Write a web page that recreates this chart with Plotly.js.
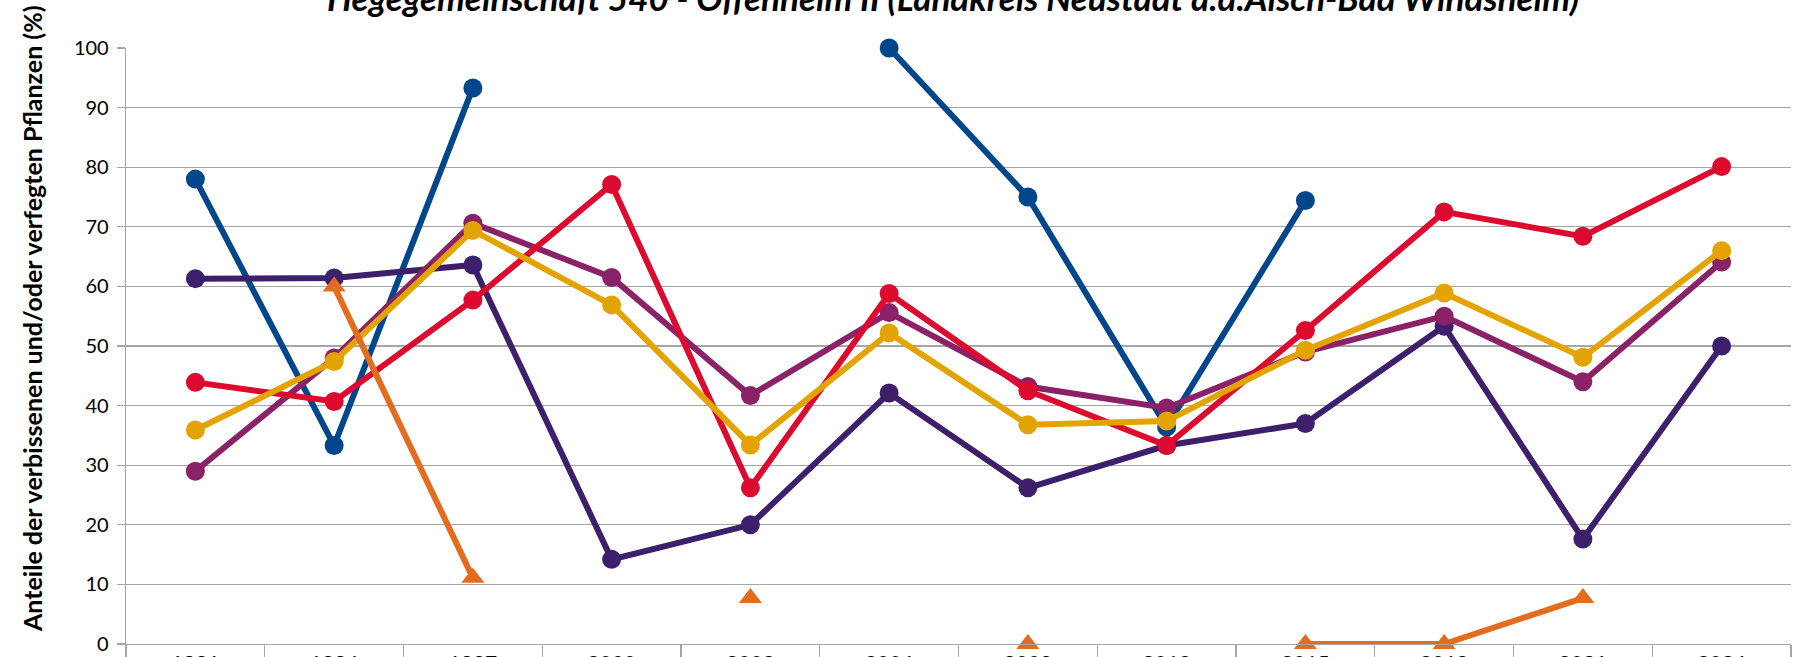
<!DOCTYPE html>
<html>
<head>
<meta charset="utf-8">
<script src="https://cdn.plot.ly/plotly-3.0.1.min.js"></script>
<style>html,body{margin:0;padding:0;background:#fff;}#chart{width:1798px;height:657px;}</style>
</head>
<body>
<div id="chart"></div>
<script>
const years = ["1991","1994","1997","2000","2003","2006","2009","2012","2015","2018","2021","2024"];
const seriesBlue    = [78.0, 33.3, 93.3, null, null, 100, 75.0, 36.4, 74.4, null, null, null];
const seriesPurple  = [61.3, 61.4, 63.6, 14.2, 20.0, 42.1, 26.2, 33.3, 37.0, 53.3, 17.6, 50.0];
const seriesMagenta = [29.0, 48.0, 70.6, 61.5, 41.7, 55.6, 43.2, 39.6, 49.0, 55.0, 44.0, 64.1];
const seriesRed     = [43.9, 40.7, 57.7, 77.1, 26.2, 58.8, 42.5, 33.3, 52.6, 72.5, 68.4, 80.1];
const seriesGold    = [35.9, 47.4, 69.4, 56.9, 33.4, 52.2, 36.8, 37.4, 49.3, 58.9, 48.1, 66.0];
const seriesOrange  = [null, 60.0, 11.1, null, 7.7, null, 0, null, 0, 0, 7.7, null];

const titleText = "Hegegemeinschaft 540 - Offenheim II (Landkreis Neustadt a.d.Aisch-Bad Windsheim)";
const yTitleText = "Anteile der verbissenen und/oder verfegten Pflanzen (%)";

function circleTrace(y, color) {
  return {x: years, y: y, type: 'scatter', mode: 'lines+markers', connectgaps: false,
    line: {color: color, width: 6}, marker: {symbol: 'circle', size: 19, color: color, line: {width: 0}},
    hoverinfo: 'skip', cliponaxis: false};
}
const traces = [
  circleTrace(seriesBlue, '#00468B'),
  circleTrace(seriesPurple, '#3D1F6B'),
  circleTrace(seriesMagenta, '#8B2267'),
  circleTrace(seriesRed, '#DC0A2F'),
  circleTrace(seriesGold, '#E3A402'),
  {x: years, y: seriesOrange, type: 'scatter', mode: 'lines+markers', connectgaps: false,
   line: {color: '#E36C1E', width: 6}, marker: {symbol: 'triangle-up', size: 20, color: '#E36C1E', line: {width: 0}},
   hoverinfo: 'skip', cliponaxis: false}
];

const layout = {
  width: 1798, height: 657,
  margin: {l: 126, r: 7, t: 48, b: 13, pad: 0},
  paper_bgcolor: '#ffffff', plot_bgcolor: '#ffffff',
  showlegend: false,
  font: {family: 'Lato, "Open Sans", sans-serif', color: '#000000'},
  xaxis: {
    type: 'category', range: [-0.5, 11.5], autorange: false,
    tickson: 'boundaries', ticks: 'outside', ticklen: 12, tickcolor: '#A6A6A6', tickwidth: 1.3,
    showgrid: false, showline: true, linecolor: '#A6A6A6', linewidth: 1.3,
    tickfont: {size: 21, color: '#000000'}, fixedrange: true
  },
  yaxis: {
    range: [0, 100], autorange: false, dtick: 10, tick0: 0, ticks: 'outside', ticklen: 8, tickcolor: '#A6A6A6', tickwidth: 1.3,
    showgrid: true, gridcolor: '#A6A6A6', gridwidth: 1.3, zeroline: false,
    showline: true, linecolor: '#A6A6A6', linewidth: 1.3,
    tickfont: {size: 20, color: '#000000'}, ticklabelstandoff: 4, fixedrange: true
  },
  annotations: [
    {text: '<b><i>' + titleText + '</i></b>', xref: 'paper', yref: 'paper', x: 0.5, y: 1, xshift: -6, yshift: 51,
     xanchor: 'center', yanchor: 'middle', showarrow: false, font: {size: 35, color: '#000000'}},
    {text: '<b>' + yTitleText + '</b>', xref: 'paper', yref: 'paper', x: 0, y: 0.5, xshift: -94, yshift: 27,
     xanchor: 'center', yanchor: 'middle', textangle: -90, showarrow: false, font: {size: 25, color: '#000000'}}
  ]
};

Plotly.newPlot('chart', traces, layout, {displayModeBar: false, staticPlot: true});
</script>
</body>
</html>
